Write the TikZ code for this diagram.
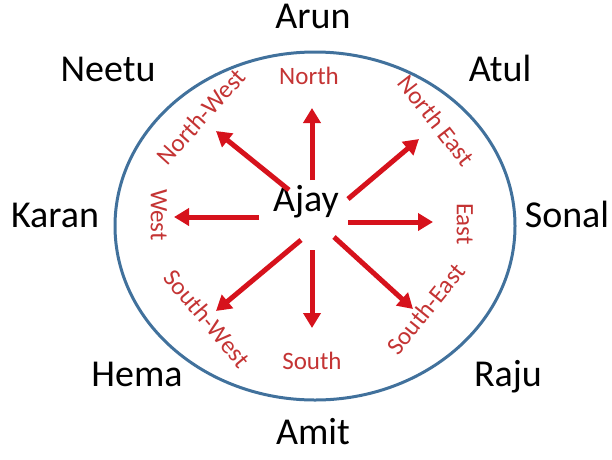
\documentclass[tikz,border=0pt]{standalone}
\usepackage{fontspec}
\setmainfont{Carlito}
\usetikzlibrary{arrows.meta}
\definecolor{ringblue}{RGB}{65,113,156}
\definecolor{arrowred}{RGB}{214,18,28}
\definecolor{labelred}{RGB}{196,52,52}

\begin{document}
\begin{tikzpicture}[
    x=1pt, y=-1pt, >={Triangle[length=15pt,width=17pt]},
    person/.style={font=\fontsize{38}{44}\selectfont, inner sep=0pt, text height=0.64em, text depth=0pt},
    dirlabel/.style={font=\fontsize{25}{30}\selectfont, text=labelred, inner sep=0pt, text height=0.64em, text depth=0pt},
    dirarrow/.style={->, draw=arrowred, line width=5pt}
  ]
  \useasboundingbox (0,0) rectangle (612,459);
  \draw[ringblue, line width=3pt] (315,226) ellipse [x radius=200pt, y radius=174pt];

  \node[person] (ajay) at (306,208) {Ajay};

  % people round the ring
  \node[person] (arun) at (313,25) {Arun};
  \node[person] (neetu) at (108,78) {Neetu};
  \node[person] (atul) at (500,78) {Atul};
  \node[person] (karan) at (55,224) {Karan};
  \node[person] (sonal) at (567,224) {Sonal};
  \node[person] (hema) at (137,383) {Hema};
  \node[person] (raju) at (508,383) {Raju};
  \node[person] (amit) at (313,441) {Amit};

  % direction labels
  \node[dirlabel] (north) at (309,81) {North};
  \node[dirlabel] (south) at (312,366) {South};
  \node[dirlabel, rotate=-90] (west) at (154,215) {West};
  \node[dirlabel, rotate=-90] (east) at (460,224) {East};
  \node[dirlabel, rotate=48] (nw) at (205,120) {North-West};
  \node[dirlabel, rotate=-52] (ne) at (432,124) {North East};
  \node[dirlabel, rotate=-50] (sw) at (203,322) {South-West};
  \node[dirlabel, rotate=51] (se) at (430,312) {South-East};

  % arrows out of the centre
  \foreach \d/\sx/\sy/\ex/\ey in {n/312/180/312/108, s/312/250/312/328,
      w/259/217/174/217, e/348/222/433/222, nw/289/190/216/131,
      ne/348/199/419/139, sw/301/240/216/311, se/334/237/413/309}{
    \coordinate (\d-from) at (\sx,\sy);
    \coordinate (\d-to) at (\ex,\ey);
    \draw[dirarrow] (\d-from) -- (\d-to);
  }
\end{tikzpicture}
\end{document}
